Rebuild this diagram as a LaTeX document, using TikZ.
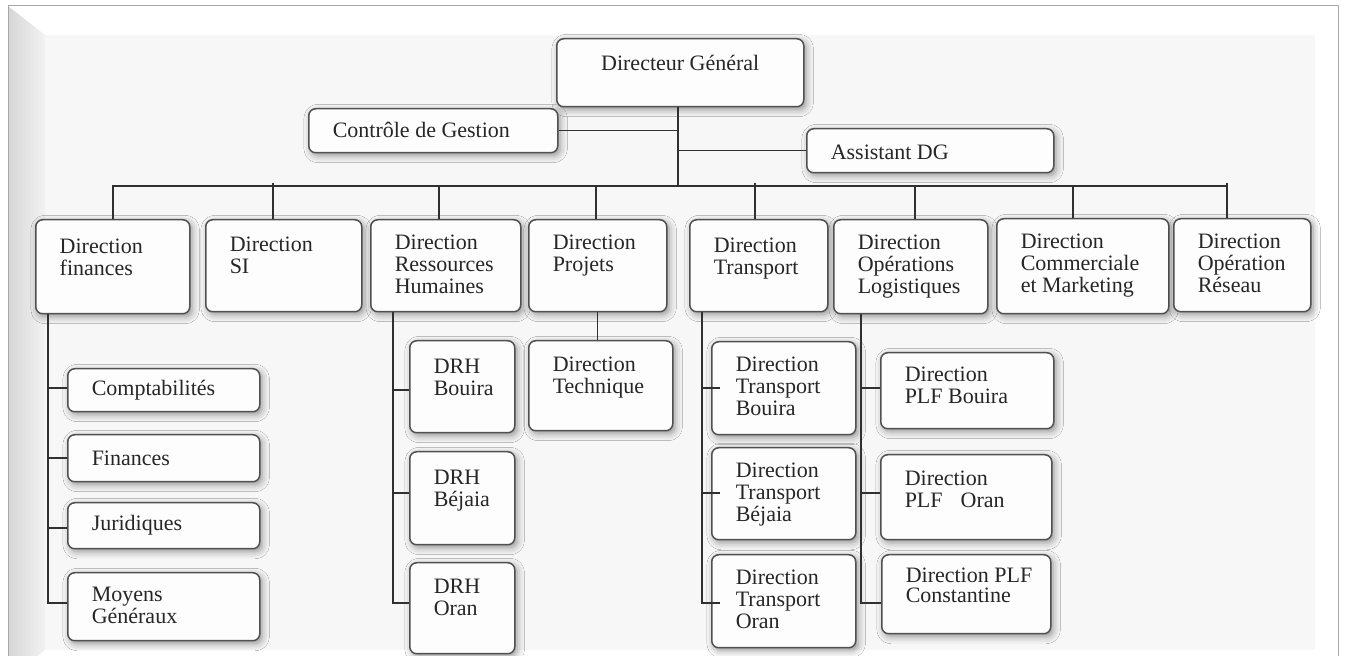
\documentclass[tikz,border=0pt]{standalone}
\usepackage{fontspec}
\setmainfont{Liberation Serif}
\usetikzlibrary{shadows.blur}

\definecolor{boxline}{HTML}{505050}
\definecolor{boxfill}{HTML}{FDFDFD}
\definecolor{linecol}{HTML}{303030}
\definecolor{textcol}{HTML}{262626}
\definecolor{panel}{HTML}{F7F7F7}
\definecolor{framecol}{HTML}{A8A8A8}

% one pixel of the drawing grid
\newdimen\pxu \pxu=0.5pt

\tikzset{
  orgbox/.style={draw=boxline, line width=0.75pt, rounded corners=3.5pt,
    fill=boxfill, inner sep=0pt, anchor=north west, text=textcol,
    blur shadow={shadow xshift=1.2pt, shadow yshift=-1.4pt,
      shadow blur radius=3.6pt, shadow opacity=42}},
  link/.style={draw=linecol, line width=0.65pt},
}

% \obox{name}{x}{y}{width}{height}{first baseline}{c|l}{text}
\newcommand{\obox}[8]{%
  \node[orgbox] (#1) at (#2,#3) {\parbox[b][#5\pxu][t]{#4\pxu}{%
    \fontsize{11}{11}\selectfont\lineskiplimit=-20pt
    \ifx c#7\centering\else\raggedright\leftskip=12pt\fi
    \rule{0pt}{#6\pxu}#8}};}

\begin{document}
\begin{tikzpicture}[x=0.5pt,y=-0.5pt]
\useasboundingbox (0,0) rectangle (1346,656);
\clip (0,0) rectangle (1346,656);

% bevelled frame behind the chart
\fill[white] (0,0) rectangle (1346,656);
\fill[panel] (45,35) rectangle (1315,650);
\shade[left color=gray!32, right color=gray!10]
  (8,6) -- (45,35) -- (45,650) -- (8,680) -- cycle;
\draw[framecol, line width=0.5pt] (8,700) -- (8,6) -- (1338,6) -- (1338,700);

% top management
\obox{dg}{556}{38}{247}{68}{32}{c}{Directeur Général}
\obox{cg}{308}{108}{249}{44}{29}{l}{Contrôle de Gestion}
\obox{adg}{806}{128}{247}{44}{31}{l}{Assistant DG}

% directions
\obox{fin}{35}{219}{154}{94}{34}{l}{Direction\\finances}
\obox{si}{205}{219}{156}{92}{32}{l}{Direction\\SI}
\obox{rh}{370}{219}{150}{92}{30}{l}{Direction\\Ressources\\Humaines}
\obox{proj}{528}{219}{138}{92}{30}{l}{Direction\\Projets}
\obox{trans}{689}{219}{138}{92}{33}{l}{Direction\\Transport}
\obox{opl}{833}{219}{154}{94}{30}{l}{Direction\\Opérations\\Logistiques}
\obox{com}{996}{218}{172}{95}{30}{l}{Direction\\Commerciale\\et Marketing}
\obox{res}{1173}{218}{137}{93}{30}{l}{Direction\\Opération\\Réseau}

% finance departments
\obox{compta}{67}{368}{192}{43}{27}{l}{Comptabilités}
\obox{fina}{67}{434}{192}{47}{31}{l}{Finances}
\obox{jur}{67}{502}{192}{46}{28}{l}{Juridiques}
\obox{moy}{67}{572}{192}{68}{29}{l}{Moyens\\Généraux}

% regional HR
\obox{drhb}{409}{340}{105}{92}{33}{l}{DRH\\Bouira}
\obox{drhbj}{409}{451}{105}{93}{33}{l}{DRH\\Béjaia}
\obox{drho}{409}{562}{105}{91}{31}{l}{DRH\\Oran}

% technical direction
\obox{tech}{528}{340}{144}{90}{31}{l}{Direction\\Technique}

% regional transport
\obox{dtb}{711}{341}{144}{93}{30}{l}{Direction\\Transport\\Bouira}
\obox{dtbj}{711}{447}{144}{92}{30}{l}{Direction\\Transport\\Béjaia}
\obox{dto}{711}{554}{144}{93}{30}{l}{Direction\\Transport\\Oran}

% regional logistics platforms
\obox{plfb}{880}{352}{173}{76}{29}{l}{Direction\\PLF Bouira}
\obox{plfo}{880}{454}{171}{85}{31}{l}{Direction\\PLF\hspace*{9pt}Oran}
\obox{plfc}{881}{554}{169}{79}{28}{l}{Direction PLF\\[-1pt]Constantine}

% trunk from the general director
\coordinate (bus) at (678,186);
\draw[link] (dg.south -| bus) -- (bus);
\draw[link] (cg.east) -- (cg.east -| bus);
\draw[link] (adg.west) -- (adg.west -| bus);

% horizontal bus and drops to the directions
\coordinate (d1) at (113,186);
\coordinate (d2) at (273,183);
\coordinate (d3) at (439,186);
\coordinate (d4) at (596,186);
\coordinate (d5) at (755,183);
\coordinate (d6) at (915,186);
\coordinate (d7) at (1073,186);
\coordinate (d8) at (1227,183);
\draw[link] (d1 |- fin.north) -- (d1) -- (d8 |- bus);
\foreach \d/\n in {d2/si, d3/rh, d4/proj, d5/trans, d6/opl, d7/com, d8/res}
  \draw[link] (\d) -- (\d |- \n.north);

% finance column
\coordinate (f1) at (48,388);
\coordinate (f2) at (48,458);
\coordinate (f3) at (48,528);
\coordinate (f4) at (48,603);
\draw[link] (fin.south -| f1) -- (f4) -- (f4 -| moy.west);
\draw[link] (f1) -- (f1 -| compta.west);
\draw[link] (f2) -- (f2 -| fina.west);
\draw[link] (f3) -- (f3 -| jur.west);

% HR column
\coordinate (r1) at (393,390);
\coordinate (r2) at (393,493);
\coordinate (r3) at (393,603);
\draw[link] (rh.south -| r1) -- (r3) -- (r3 -| drho.west);
\draw[link] (r1) -- (r1 -| drhb.west);
\draw[link] (r2) -- (r2 -| drhbj.west);

% projects to technical direction
\draw[link] (proj.south) -- (proj.south |- tech.north);

% transport column
\coordinate (t1) at (702,388);
\coordinate (t2) at (702,493);
\coordinate (t3) at (702,603);
\draw[link] (trans.south -| t1) -- (t3) -- ([xshift=4.5pt]t3 -| dto.west);
\draw[link] (t1) -- ([xshift=4.5pt]t1 -| dtb.west);
\draw[link] (t2) -- ([xshift=4.5pt]t2 -| dtbj.west);

% logistics column
\coordinate (o1) at (861,388);
\coordinate (o2) at (861,493);
\coordinate (o3) at (861,603);
\draw[link] (opl.south -| o1) -- (o3) -- (o3 -| plfc.west);
\draw[link] (o1) -- (o1 -| plfb.west);
\draw[link] (o2) -- (o2 -| plfo.west);
\end{tikzpicture}
\end{document}
